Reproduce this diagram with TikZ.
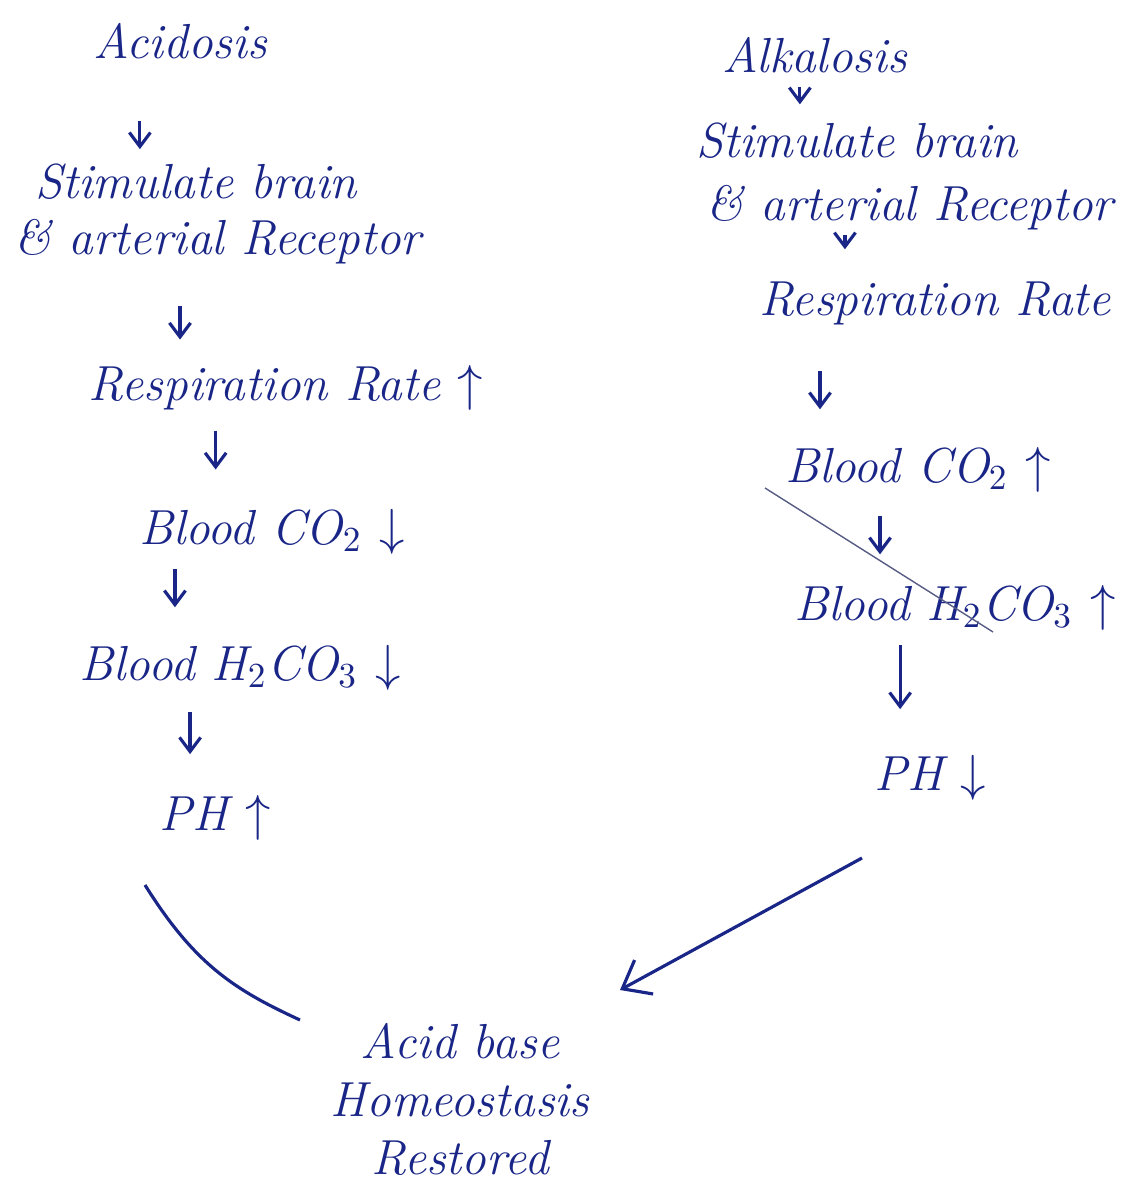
\documentclass[tikz,border=0pt]{standalone}
\usetikzlibrary{arrows.meta}
\definecolor{ink}{RGB}{25,38,135}
\begin{document}
\begin{tikzpicture}[x=0.01cm,y=-0.01cm,>={Straight Barb[length=4pt,width=6pt]},
  scribble/.style={text=ink,font=\fontsize{14}{16.5}\selectfont\itshape,inner sep=1pt},
  row/.style={scribble,text height=11pt,text depth=3pt},
  flow/.style={->,draw=ink,line width=0.9pt},
  pen/.style={draw=ink,line width=0.9pt}]
\useasboundingbox (0,0) rectangle (1137,1191);
% acidosis column
\node[row] (acid) at (180,44) {Acidosis};
\node[row] (stimA1) at (196,184) {Stimulate brain};
\node[row] (stimA2) at (218,240) {\& arterial Receptor};
\node[row] (respA) at (286,386) {Respiration Rate $\uparrow$};
\node[row] (co2A) at (272,530) {Blood CO$_2$ $\downarrow$};
\node[row] (carbA) at (240,666) {Blood H$_2$CO$_3$ $\downarrow$};
\node[row] (phA) at (215,816) {PH $\uparrow$};
% alkalosis column
\node[row] (alk) at (815,58) {Alkalosis};
\node[row] (stimB1) at (857,143) {Stimulate brain};
\node[row] (stimB2) at (910,206) {\& arterial Receptor};
\node[row] (respB) at (935,301) {Respiration Rate};
\node[row] (co2B) at (918,468) {Blood CO$_2$ $\uparrow$};
\node[row] (carbB) at (955,606) {Blood H$_2$CO$_3$ $\uparrow$};
\node[row] (phB) at (930,776) {PH $\downarrow$};
\node[scribble,align=center] (home) at (460,1099) {Acid base\\ Homeostasis\\ Restored};
\draw[flow,shorten <=13.7pt,shorten >=1.7pt] ([xshift=-11.4pt]acid.south) -- ([xshift=-11.4pt]acid.south |- stimA1.north);
\draw[flow,shorten <=10.5pt,shorten >=5pt] ([xshift=-10.8pt]stimA2.south) -- ([xshift=-10.8pt]stimA2.south |- respA.north);
\draw[flow,shorten <=4.5pt,shorten >=9pt] ([xshift=-20pt]respA.south) -- ([xshift=-20pt]respA.south |- co2A.north);
\draw[flow,shorten <=2.8pt,shorten >=8.5pt] ([xshift=-27.6pt]co2A.south) -- ([xshift=-27.6pt]co2A.south |- carbA.north);
\draw[flow,shorten <=5pt,shorten >=9.4pt] ([xshift=-14.2pt]carbA.south) -- ([xshift=-14.2pt]carbA.south |- phA.north);
\draw[flow,shorten >=2.8pt] ([xshift=-4.3pt]alk.south) -- ([xshift=-4.3pt]alk.south |- stimB1.north);
\draw[flow,shorten >=6.5pt] ([xshift=-18.5pt]stimB2.south) -- ([xshift=-18.5pt]stimB2.south |- respB.north);
\draw[flow,shorten <=11.7pt,shorten >=8.5pt] ([xshift=-32.7pt]respB.south) -- ([xshift=-32.7pt]respB.south |- co2B.north);
\draw[flow,shorten <=5.4pt,shorten >=6.5pt] ([xshift=-10.8pt]co2B.south) -- ([xshift=-10.8pt]co2B.south |- carbB.north);
\draw[flow,shorten <=3pt,shorten >=10.8pt] ([xshift=-15.6pt]carbB.south) -- ([xshift=-15.6pt]carbB.south |- phB.north);
% converging strokes
\coordinate (leftTail) at (145,885);
\coordinate (leftEnd) at (300,1020);
\coordinate (rightTail) at (862,858);
\coordinate (rightTip) at (620,990);
\draw[pen] (leftTail) .. controls (195,965) and (235,990) .. (leftEnd);
\draw[flow,>={Straight Barb[length=7pt,width=11pt]}] (rightTail) -- (rightTip);
\coordinate (strikeA) at (765,488);
\coordinate (strikeB) at (993,632);
\draw[gray!60!ink,line width=0.4pt] (strikeA) -- (strikeB);
\end{tikzpicture}
\end{document}
